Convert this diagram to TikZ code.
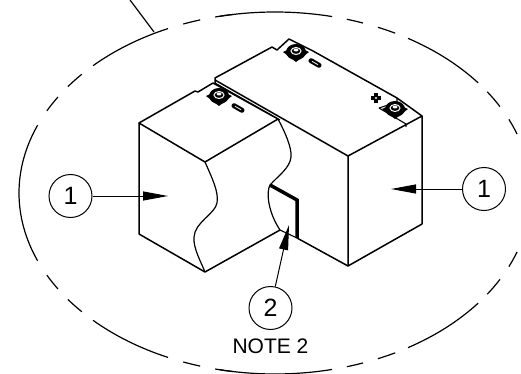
\documentclass[tikz,border=0pt]{standalone}
\usepackage{fontspec}
\setmainfont{Liberation Sans}
\usetikzlibrary{arrows.meta,positioning}

\begin{document}
\begin{tikzpicture}[
            x=1pt, y=-1pt,
            >={Triangle[length=25pt,width=9pt]},
            node distance=6pt and 6pt,
            edge/.style={line width=1.5pt, line join=round},
            rim/.style={line width=1.1pt},
            cutline/.style={line width=1.2pt},
            outline/.style={line width=1.2pt},
            leader/.style={line width=1pt},
            balloon/.style={draw, circle, line width=1pt, minimum size=43pt, inner sep=0pt, font=\fontsize{25}{28}\selectfont}
        ]
        \useasboundingbox (0,0) rectangle (521,374);

        % dashed detail ellipse
        \foreach \a/\b in {24/19, 34/28.5, 58.7/37.5, 66.3/62, 73.7/69.9, 77.1/102.5,
                           103.5/99.4, 111/107, 135.3/114.7, 144/139, 153/148} {
            \draw[outline] (275,193) ++(-\a:256 and 181) arc[start angle=-\a, end angle=-\b, x radius=256, y radius=181];
            \draw[outline] (275,193) ++(\a:256 and 181) arc[start angle=\a, end angle=\b, x radius=256, y radius=181];
        }
        \draw[outline] (275,193) ++(-158:256 and 181) arc[start angle=-158, end angle=-202, x radius=256, y radius=181];
        \coordinate (leadstart) at (130,0);
        \coordinate (leadend) at (154,32);
        \draw[outline] (leadstart) -- (leadend);

        % left battery
        \draw[edge] (195,91) -- (139,123) -- (205,162) -- (278,119);
        \draw[edge] (139,123) -- (139,234) -- (205,272) -- (280,230);
        \draw[edge] (195,91) -- (198,92) -- (213,83) -- (278,119);
        \draw[rim] (215,83) -- (280,120);
        \draw[cutline] (205,162) .. controls (212,178) and (219,192) .. (217,203)
            .. controls (215,214) and (195,222) .. (194,237)
            .. controls (193,248) and (201,262) .. (205,272);
        \draw[cutline] (278,119) .. controls (285,132) and (292,148) .. (291,157)
            .. controls (290,168) and (278,176) .. (270,185)
            .. controls (266,192) and (268,212) .. (280,230);

        % right battery
        \draw[edge] (215,83) -- (215,78) -- (272,47) -- (277,50) -- (289,39) -- (313,51) -- (397,98) -- (422,116);
        \draw[edge] (215,80) -- (348,156) -- (422,116) -- (422,224) -- (348,266) -- (348,156);
        \draw[edge] (348,266) -- (297,238);
        \draw[rim] (280,230) -- (297,238);
        \draw[line width=3.5pt] (270,185) -- (297,200) -- (297,238);
        \draw[rim] (379,108) -- (397,102) -- (397,98);
        \draw[rim] (379,108) -- (406,124) -- (406,127);

        % terminals
        \foreach \tx/\ty in {219/96, 296/52, 395/109} {
            \fill (\tx-13,\ty) -- (\tx,\ty+10) -- (\tx+13,\ty) -- (\tx,\ty-6) -- cycle;
            \fill[black] (\tx,\ty) ellipse[x radius=10, y radius=8];
            \draw[white, line width=1pt] (\tx,\ty-1) ellipse[x radius=5, y radius=3.5];
            \fill[white] (\tx,\ty-2) ellipse[x radius=2.5, y radius=1.5];
        }

        % polarity marks
        \foreach \mx/\my in {238/108, 315/63} {
            \draw[line width=5pt, line cap=round] (\mx-4,\my-2.3) -- (\mx+4,\my+2.3);
            \draw[white, line width=0.8pt] (\mx-3,\my-1.7) -- (\mx+3,\my+1.7);
        }
        \draw[line width=4.5pt] (371,98) -- (381,98);
        \draw[line width=4.5pt] (376,93) -- (376,103);
        \fill[white] (376,98) circle[radius=1.2];

        % item balloons
        \node[balloon] (itemleft) at (70.5,196) {1};
        \node[balloon] (itemright) at (484,189) {1};
        \node[balloon] (itemtwo) at (270.5,308) {2};
        \node[below=9pt of itemtwo, inner sep=0pt, font=\fontsize{21}{24}\selectfont] (notetwo) {NOTE 2};
        \coordinate (tipleft) at (168,196);
        \coordinate (tipright) at (391,189);
        \coordinate (tiptwo) at (289,225);
        \draw[->, leader] (itemleft) -- (tipleft);
        \draw[->, leader] (itemright) -- (tipright);
        \draw[->, leader] (itemtwo) -- (tiptwo);
    \end{tikzpicture}
\end{document}
